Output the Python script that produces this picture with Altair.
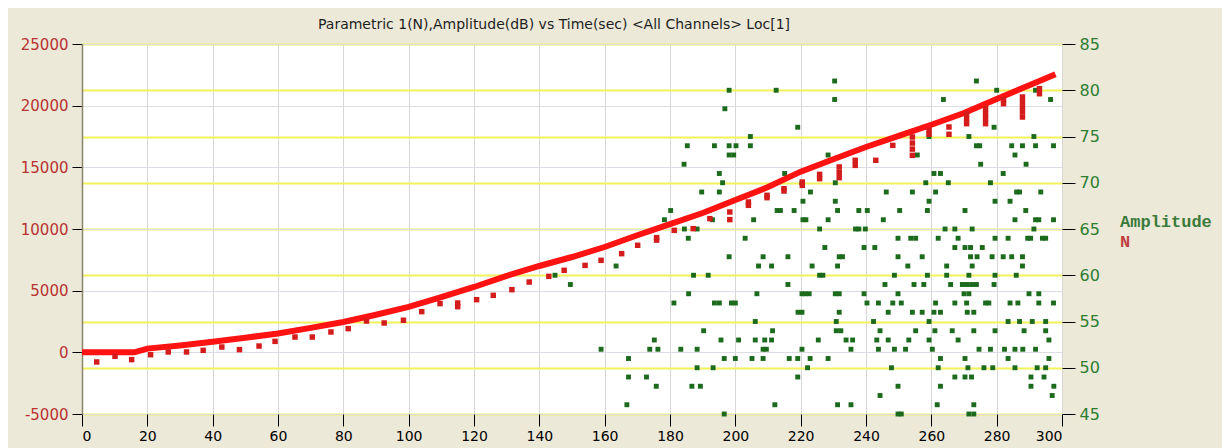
import altair as alt
import pandas as pd

title_text = "Parametric 1(N),Amplitude(dB) vs Time(sec) <All Channels> Loc[1]"

# N (red) main curve
curve_t = [0, 16, 20, 30, 40, 50, 60, 70, 80, 90, 100, 110, 120, 130, 140, 150,
           160, 170, 180, 190, 200, 210, 220, 230, 240, 250, 260, 270, 280, 290, 298]
curve_n = [0, 0, 300, 560, 850, 1180, 1530, 1980, 2460, 3050, 3680, 4480, 5300, 6200,
           7000, 7730, 8540, 9490, 10400, 11300, 12350, 13400, 14650, 15650, 16650,
           17550, 18450, 19400, 20550, 21650, 22550]

# N (red) periodic drops below the curve
dip_t = [4.5, 10.1, 15.2, 21.0, 26.4, 32.0, 37.1, 42.8, 48.2, 54.2, 59.1, 65.2, 70.5,
         76.2, 81.5, 87.1, 92.5, 98.4, 104.0, 109.6, 115.0, 115.0, 120.8, 125.9, 131.6,
         136.9, 142.9, 147.6, 154.0, 158.9, 165.2, 170.1, 175.9, 175.9, 181.3, 187.1,
         192.2, 198.3, 198.3, 204.0, 204.0, 209.7, 209.7, 214.9, 214.9, 220.5, 220.5,
         225.8, 225.8, 231.8, 231.8, 231.8, 236.7, 236.7, 243.0, 248.2,
         254.2, 254.2, 254.2, 254.2, 259.3, 259.3, 265.4, 265.4,
         270.8, 270.8, 270.8, 276.6, 276.6, 276.6, 276.6, 282.1, 282.1,
         287.9, 287.9, 287.9, 287.9, 287.9, 293.1, 293.1]
dip_n = [-780, -320, -590, -190, 30, 30, 160, 430, 220, 510, 890, 1240, 1240,
         1650, 1920, 2540, 2380, 2600, 3300, 3950, 4000, 3700, 4270, 4620, 5080,
         5700, 6160, 6650, 7050, 7460, 8000, 8680, 9300, 9100, 9890, 10030,
         10840, 11380, 10760, 12190, 11920, 12730, 12540, 13270, 13080, 13810, 13540,
         14430, 14080, 15030, 14600, 14160, 15570, 15160, 15570, 16780,
         17460, 16970, 16480, 15970, 18000, 17680, 18270, 17680,
         19350, 18940, 18540, 19760, 19350, 18950, 18540, 20490, 20160,
         20700, 20300, 19900, 19500, 19080, 21380, 20970]

# Amplitude (green) hits, grouped by dB level
amp_levels = [81, 80, 79, 78, 76, 75, 74, 73, 72, 71, 70, 69, 68, 67, 66, 65, 64, 63,
              62, 61, 60, 59, 58, 57, 56, 55, 54, 53, 52, 51, 50, 49, 48, 47, 46, 45]
amp_times = [
    [230.4, 273.8],
    [198.1, 212.5, 280, 291.9],
    [230.4, 263.7, 296.5],
    [196.8],
    [219.1, 279.2, 257.7],
    [204.6, 259.3, 271.5, 291.4],
    [185.3, 193.6, 198.1, 200.2, 204.6, 273.8, 274.8, 284.6, 287.9, 291.9, 297.4],
    [198.1, 199.5, 228.4, 255.7, 285.6],
    [184.3, 275.1, 289],
    [195.1, 215.1, 260.8, 262.8, 282],
    [196.1, 220.4, 230.6, 258.3, 265.2, 278.1],
    [189.7, 195.1, 223, 246.2, 254.2, 261.3, 286.1, 287, 293.5],
    [220.7, 230.6, 259.3, 279.5, 284.1],
    [180.2, 192, 212.8, 213.8, 218, 231.3, 237.8, 240.4, 250.3, 258.8, 270.3, 288.9],
    [178.3, 193, 205.6, 220.7, 221.6, 228.4, 245.3, 285.6, 291.9, 292.9, 297.4],
    [184.4, 188.3, 225.8, 236.8, 237.8, 239.8, 264.2, 267.2, 272.5, 291.4],
    [185.6, 203, 249.8, 253.7, 255.2, 262.1, 268.2, 279.5, 283.5, 289.5, 290.4, 294, 295],
    [227.4, 239.4, 242.7, 267.2, 270.3, 272, 275.6],
    [198.1, 208.5, 216.1, 231.8, 232.8, 249.8, 257.2, 272, 274, 278.6, 282, 284.6, 287.9],
    [163.5, 207.1, 211.1, 223.5, 231.3, 252.8, 264.7, 272.5, 287.9],
    [144.8, 187.2, 191.7, 225.8, 226.8, 248.7, 258.8, 264.7, 271.5, 279.5, 286],
    [149.5, 216.1, 245.8, 254.7, 257.7, 265.9, 269.5, 270.8, 272.3, 273.8, 279.2],
    [185.7, 206.6, 220.4, 221.4, 222.6, 230.6, 231.8, 239.4, 249.8, 270, 271.5, 289.9, 292.9],
    [181.2, 193.6, 195.1, 198.8, 200, 240.3, 243.8, 248.2, 250.8, 261.3, 267.2, 270.8,
     276.6, 277.6, 284.1, 286.5, 292.9, 297.4],
    [219.2, 220.4, 231.8, 246.8, 254.2, 257.2, 260.8, 262.8, 271, 273],
    [206.1, 230.9, 242.3, 259.3, 283.5, 287, 290.9, 295],
    [190.3, 211.4, 230.9, 232.3, 244.3, 255.2, 261.1, 266.4, 273, 279.5, 288.4, 295],
    [175.2, 195.6, 201, 206.1, 209, 211.1, 225.4, 233.9, 235.9, 243.3, 246.8, 253.1,
     259.3, 268.2, 296],
    [158.9, 173.8, 176.3, 183.3, 188.3, 208.5, 209.5, 220.4, 235.4, 243.8, 248.7, 252.1,
     260.3, 274.6, 278.1, 282.4, 285.6, 288, 291.9],
    [167.3, 196.6, 200, 205.1, 208.5, 216.5, 219.1, 222.9, 228.4, 262.8, 270.3, 283.5, 296],
    [188.3, 193.2, 222.1, 247.8, 262.1, 271.2, 276.1, 278.8, 285.6, 292.4, 295],
    [167.3, 172.8, 219.1, 267.2, 270.3, 272.3, 290.5, 294.5],
    [175.8, 186.7, 189.3, 249.8, 262.8, 290.5, 297.5],
    [244.3, 297],
    [166.8, 212.1, 231.3, 235.4, 261.8, 273],
    [196.6, 249.8, 250.8, 271.5, 273],
]

x_ticks = list(range(0, 301, 20))
n_ticks = list(range(-5000, 25001, 5000))
db_ticks = list(range(45, 86, 5))
legend_labels = ["Amplitude", "N"]

curve_df = pd.DataFrame({"t": curve_t, "n": curve_n})
dip_df = pd.DataFrame({"t": dip_t, "n": dip_n})
rows = []
for lvl, ts in zip(amp_levels, amp_times):
    for tt in ts:
        rows.append({"t": tt, "db": lvl})
amp_df = pd.DataFrame(rows)

x_scale = alt.Scale(domain=[0, 300], nice=False, zero=False)
n_scale = alt.Scale(domain=[-5000, 25000], nice=False, zero=False)
db_scale = alt.Scale(domain=[45, 85], nice=False, zero=False)

x_axis = alt.Axis(values=x_ticks, title=None, grid=True, gridColor="#D6D6D6",
                  domain=False, tickSize=12, tickColor="#000000", labelPadding=3,
                  labelColor="#000000", labelFontSize=14, labelFont="DejaVu Sans")

amp = alt.Chart(amp_df).mark_square(color="#1C6B1C", size=24, opacity=1).encode(
    x=alt.X("t:Q", scale=x_scale, axis=x_axis),
    y=alt.Y("db:Q", scale=db_scale,
            axis=alt.Axis(orient="right", values=db_ticks, title=None, grid=True,
                          gridColor="#F2F25A", gridWidth=2, domain=False,
                          tickSize=13, tickColor="#000000", labelPadding=4,
                          labelColor="#2E7D32", labelFontSize=16, labelFont="DejaVu Sans")),
)

line = alt.Chart(curve_df).mark_line(color="#FF1212", strokeWidth=6).encode(
    x=alt.X("t:Q", scale=x_scale),
    y=alt.Y("n:Q", scale=n_scale,
            axis=alt.Axis(orient="left", values=n_ticks, title=None, grid=True,
                          gridColor="#DCDCE4", labelExpr="'' + datum.value",
                          domain=True, domainColor="#8A8468", domainWidth=1.5,
                          tickSize=10, tickColor="#000000", labelPadding=4,
                          labelColor="#B83232", labelFontSize=15, labelFont="DejaVu Sans")),
)

dips = alt.Chart(dip_df).mark_square(color="#D41C1C", size=30, opacity=1).encode(
    x=alt.X("t:Q", scale=x_scale),
    y=alt.Y("n:Q", scale=n_scale, axis=None),
)

leg_amp = alt.Chart(pd.DataFrame({"label": [legend_labels[0]]})).mark_text(
    align="left", baseline="middle", font="Liberation Mono", fontSize=17,
    fontWeight="bold", color="#3A7A3A").encode(
    text="label:N", x=alt.value(1038), y=alt.value(178))
leg_n = alt.Chart(pd.DataFrame({"label": [legend_labels[1]]})).mark_text(
    align="left", baseline="middle", font="Liberation Mono", fontSize=17,
    fontWeight="bold", color="#C04040").encode(
    text="label:N", x=alt.value(1038), y=alt.value(198))

chart = alt.layer(amp, line, dips, leg_amp, leg_n).resolve_scale(
    y="independent"
).properties(
    width=980, height=370,
    padding={"left": 74, "top": 36, "right": 160, "bottom": 34},
    autosize=alt.AutoSizeParams(type="none"),
    background="#ECE9D8",
    title=alt.TitleParams(text=title_text, font="DejaVu Sans", fontSize=14,
                          fontWeight="normal", color="#1E1E1E", anchor="middle",
                          dx=-18, offset=-7, baseline="alphabetic"),
).configure_view(fill="white", stroke=None)

chart.save("out.html", embed_options={"renderer": "svg", "actions": False})
